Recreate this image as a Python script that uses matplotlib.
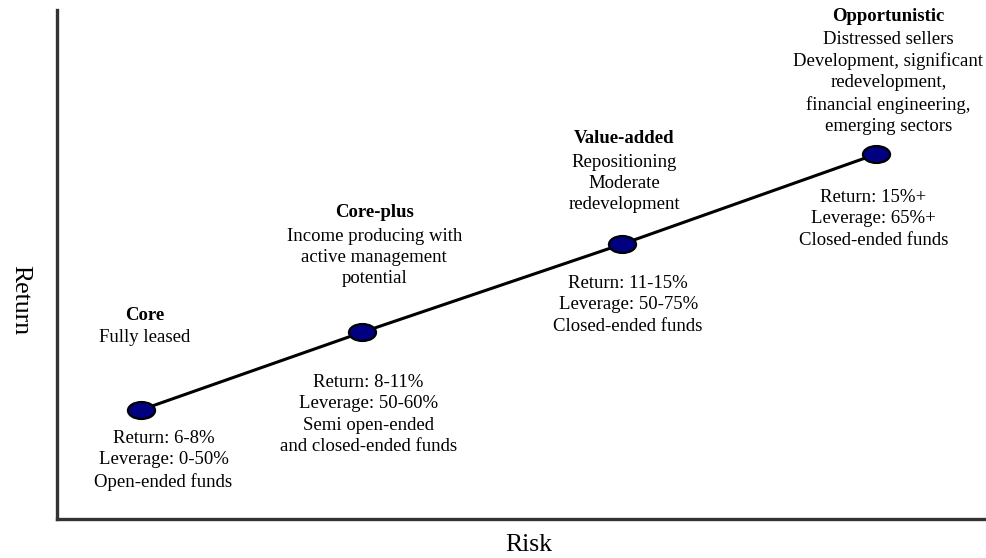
import numpy as np
import matplotlib
matplotlib.use("Agg")
import matplotlib.pyplot as plt
from matplotlib.path import Path
from matplotlib.transforms import Affine2D

plt.rcParams['font.family'] = ['Liberation Serif', 'DejaVu Serif']

# real estate investment styles, risk vs return (arbitrary units)
styles = ["Core", "Core-plus", "Value-added", "Opportunistic"]
risk = [0.90, 3.29, 6.09, 8.83]
ret = [2.14, 3.67, 5.40, 7.17]

descriptions = [
    "Fully leased",
    "Income producing with\nactive management\npotential",
    "Repositioning\nModerate\nredevelopment",
    "Distressed sellers\nDevelopment, significant\nredevelopment,\nfinancial engineering,\nemerging sectors",
]
details = [
    "Return: 6-8%\nLeverage: 0-50%\nOpen-ended funds",
    "Return: 8-11%\nLeverage: 50-60%\nSemi open-ended\nand closed-ended funds",
    "Return: 11-15%\nLeverage: 50-75%\nClosed-ended funds",
    "Return: 15%+\nLeverage: 65%+\nClosed-ended funds",
]

# label offsets in pixels from each marker: (dx, dy) above, (dx, dy) below
above_off = [(4, 64), (12, 45), (2, 31), (12, 19)]
below_off = [(23, -20), (6, -42), (6, -31), (-3, -35)]

FS = 13.5
LS = 1.33
line_px = 22

fig = plt.figure(figsize=(9.87, 5.58), dpi=100)
ax = fig.add_axes([57 / 987, 39 / 558, 928 / 987, 509 / 558])
ax.set_xlim(0, 10)
ax.set_ylim(0, 10)

ax.plot(risk, ret, color='black', lw=2.2, zorder=2)

# flattened ellipse marker
ellipse = Path.unit_circle().transformed(Affine2D().scale(1.6, 1.0))
ax.plot(risk, ret, ls='none', marker=ellipse, markersize=19.5,
        markerfacecolor='#000080', markeredgecolor='black',
        markeredgewidth=1.6, zorder=3)

for i, name in enumerate(styles):
    n_lines = descriptions[i].count("\n") + 1
    dx, dy = above_off[i]
    ax.annotate(descriptions[i], (risk[i], ret[i]), xytext=(dx, dy),
                textcoords='offset pixels', ha='center', va='bottom',
                multialignment='center', fontsize=FS, linespacing=LS)
    ax.annotate(name, (risk[i], ret[i]),
                xytext=(dx, dy + n_lines * line_px),
                textcoords='offset pixels', ha='center', va='bottom',
                fontsize=FS, fontweight='bold')
    dx, dy = below_off[i]
    ax.annotate(details[i], (risk[i], ret[i]), xytext=(dx, dy),
                textcoords='offset pixels', ha='center', va='top',
                multialignment='center', fontsize=FS, linespacing=LS)

for side in ['top', 'right']:
    ax.spines[side].set_visible(False)
for side in ['left', 'bottom']:
    ax.spines[side].set_color('#333333')
    ax.spines[side].set_linewidth(2.4)
ax.set_xticks([])
ax.set_yticks([])

fig.text(529 / 987, 1 - 545 / 558, "Risk", ha='center', va='center', fontsize=18.5)
fig.text(20 / 987, 1 - 300 / 558, "Return", ha='center', va='center',
         rotation=270, fontsize=18.5)

fig.savefig("out.png", dpi=100)
